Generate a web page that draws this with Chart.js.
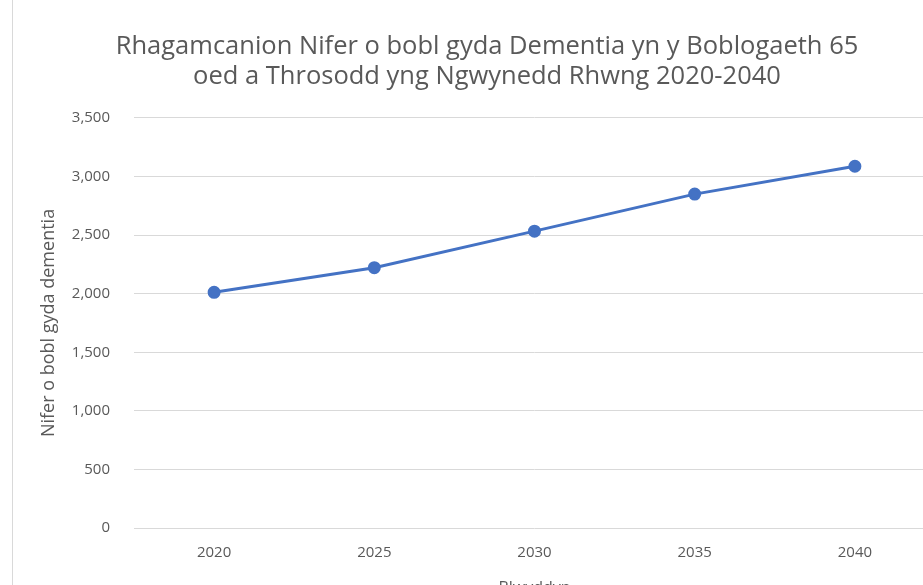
<!DOCTYPE html>
<html>
<head>
<meta charset="utf-8">
<script src="https://cdn.jsdelivr.net/npm/chart.js@4.4.1/dist/chart.umd.min.js"></script>
<style>
  html, body { margin: 0; padding: 0; background: #fff; overflow: hidden; width: 923px; height: 585px; }
  #wrap { position: absolute; left: 12px; top: 0; width: 948px; height: 600px; border-left: 1px solid #d9d9d9; }
  canvas { display: block; }
</style>
</head>
<body>
<div id="wrap"><canvas id="c" width="948" height="600"></canvas></div>
<script>
const categories = ['2020', '2025', '2030', '2035', '2040'];
const dementiaValues = [2012, 2222, 2534, 2850, 3088];
const yTicks = [0, 500, 1000, 1500, 2000, 2500, 3000, 3500];
const titleLines = ['Rhagamcanion Nifer o bobl gyda Dementia yn y Boblogaeth 65', 'oed a Throsodd yng Ngwynedd Rhwng 2020-2040'];
const yTitle = 'Nifer o bobl gyda dementia';
const xTitle = 'Blwyddyn';

const gray = '#595959';
const FONT = "'Open Sans', sans-serif";

new Chart(document.getElementById('c'), {
  type: 'line',
  data: {
    labels: categories,
    datasets: [{
      data: dementiaValues,
      borderColor: '#4472C4',
      backgroundColor: '#4472C4',
      borderWidth: 3,
      pointRadius: 5,
      pointBackgroundColor: '#4472C4',
      pointBorderColor: '#4472C4',
      tension: 0
    }]
  },
  options: {
    responsive: false,
    animation: false,
    layout: { padding: 0 },
    plugins: {
      legend: { display: false },
      tooltip: { enabled: false },
      title: {
        display: true,
        text: titleLines,
        color: gray,
        font: { family: FONT, size: 25.5, weight: 'normal', lineHeight: 1.176 },
        padding: { top: 32, bottom: 26 }
      }
    },
    scales: {
      x: {
        offset: true,
        grid: { display: false, drawTicks: false },
        border: { display: false },
        ticks: { color: gray, font: { family: FONT, size: 15 }, padding: 16 },
        title: { display: true, text: xTitle, color: gray, font: { family: FONT, size: 16 }, padding: { top: 4, bottom: 2 } },
        afterFit: (s) => { s.height = 72; }
      },
      y: {
        min: 0,
        max: 3500,
        afterBuildTicks: (s) => { s.ticks = yTicks.map(v => ({ value: v })); },
        grid: { color: '#d9d9d9', lineWidth: 1, drawTicks: false },
        border: { display: false },
        ticks: {
          color: gray,
          font: { family: FONT, size: 15 },
          padding: 24,
          callback: (v) => v.toLocaleString('en-US')
        },
        title: { display: true, text: yTitle, color: gray, font: { family: FONT, size: 18 }, padding: { top: 25, bottom: 4 } },
        afterFit: (s) => { s.width = 121; }
      },
      yR: {
        position: 'right',
        display: true,
        grid: { display: false, drawTicks: false },
        border: { display: false },
        ticks: { display: false },
        afterFit: (s) => { s.width = 26; }
      }
    }
  }
});
</script>
</body>
</html>
